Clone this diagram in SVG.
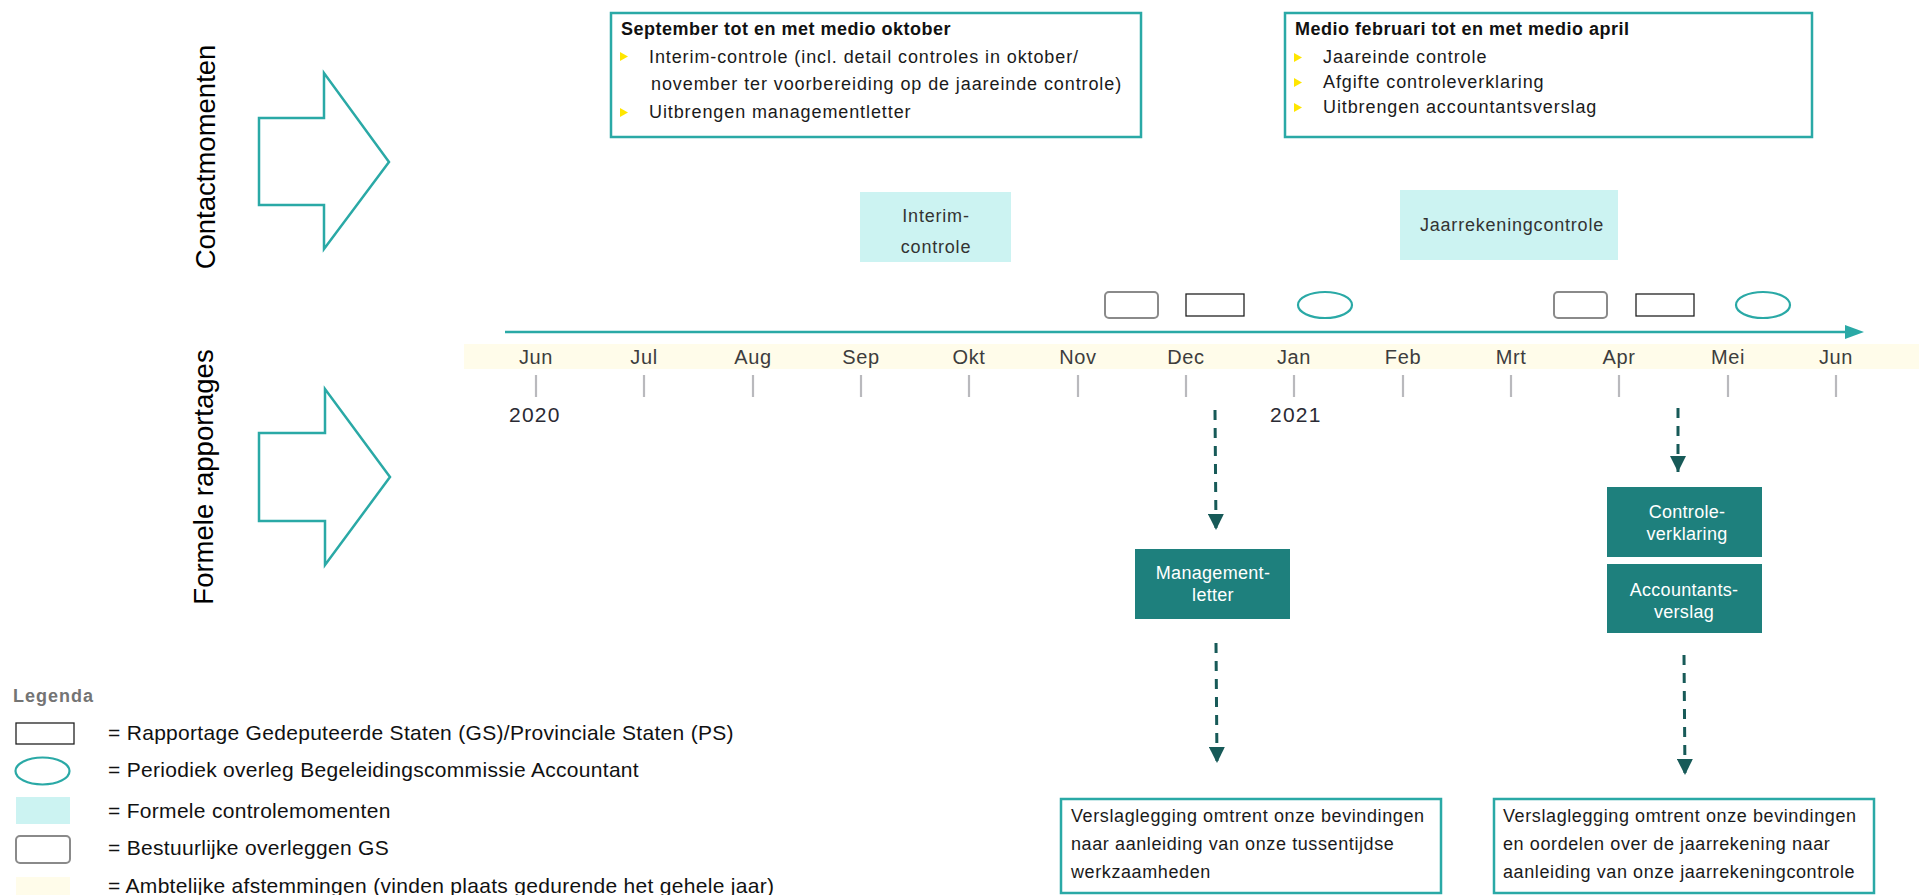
<svg xmlns="http://www.w3.org/2000/svg" width="1919" height="895" viewBox="0 0 1919 895">
<defs>
<style>
text{font-family:"Liberation Sans",Arial,sans-serif;}
.side{font-size:27.5px;fill:#000;}
.big{fill:none;stroke:#2aa9a6;stroke-width:2.5;}
.hdr{font-size:18px;font-weight:bold;fill:#111;letter-spacing:0.5px;}
.bul{font-size:18px;fill:#1a1a1a;letter-spacing:0.9px;}
.tri{fill:#ffe600;}
.info{fill:#fff;stroke:#2aa9a6;stroke-width:2.5;}
.cyan{fill:#ccf3f2;}
.ctext{font-size:18px;fill:#333;letter-spacing:0.8px;text-anchor:middle;}
.month{font-size:20px;fill:#3d3d3d;letter-spacing:0.6px;text-anchor:middle;}
.tick{stroke:#b9b9bd;stroke-width:2.2;}
.year{font-size:21px;fill:#2a2a33;letter-spacing:1.2px;}
.gbox{fill:#1e807d;}
.gtext{font-size:18px;fill:#fff;text-anchor:middle;letter-spacing:0.3px;}
.dash{fill:none;stroke:#175a58;stroke-width:3;stroke-dasharray:10 8;}
.btext{font-size:18px;fill:#1a1a1a;letter-spacing:0.6px;}
.legt{font-size:21px;fill:#111;letter-spacing:0.3px;}
.rr{fill:#fff;stroke:#8a8a8a;stroke-width:2;}
.rp{fill:#fff;stroke:#222;stroke-width:1.3;}
.ov{fill:#fff;stroke:#2aa9a6;stroke-width:2.2;}
</style>
<marker id="ah" viewBox="0 0 16 16" refX="16" refY="8" markerWidth="16" markerHeight="16" markerUnits="userSpaceOnUse" orient="auto">
<path d="M0,0 L16,8 L0,16 Z" fill="#175a58"/>
</marker>
</defs>

<g id="label-contactmomenten">
<text class="side" transform="translate(215,157) rotate(-90)" text-anchor="middle">Contactmomenten</text>
<polygon class="big" points="259,118 324,118 324,73 389,162 324,249 324,205 259,205"/>
</g>
<g id="label-formele-rapportages">
<text class="side" transform="translate(213,477) rotate(-90)" text-anchor="middle">Formele rapportages</text>
<polygon class="big" points="259,433 325,433 325,389 390,477 325,565 325,521 259,521"/>
</g>

<g id="box-september">
<rect class="info" x="611" y="13" width="530" height="124"/>
<text class="hdr" x="621" y="35">September tot en met medio oktober</text>
<polygon class="tri" points="620,52 628,56.5 620,61"/>
<text class="bul" x="649" y="63">Interim-controle (incl. detail controles in oktober/</text>
<text class="bul" x="651" y="90">november ter voorbereiding op de jaareinde controle)</text>
<polygon class="tri" points="620,108 628,112.5 620,117"/>
<text class="bul" x="649" y="118">Uitbrengen managementletter</text>
</g>

<g id="box-februari">
<rect class="info" x="1285" y="13" width="527" height="124"/>
<text class="hdr" x="1295" y="35">Medio februari tot en met medio april</text>
<polygon class="tri" points="1294,53 1302,57.5 1294,62"/>
<text class="bul" x="1323" y="63">Jaareinde controle</text>
<polygon class="tri" points="1294,78 1302,82.5 1294,87"/>
<text class="bul" x="1323" y="88">Afgifte controleverklaring</text>
<polygon class="tri" points="1294,103 1302,107.5 1294,112"/>
<text class="bul" x="1323" y="113">Uitbrengen accountantsverslag</text>
</g>

<g id="interim-controle">
<rect class="cyan" x="860" y="192" width="151" height="70"/>
<text class="ctext" x="936" y="222">Interim-</text>
<text class="ctext" x="936" y="253">controle</text>
</g>
<g id="jaarrekeningcontrole">
<rect class="cyan" x="1400" y="190" width="218" height="70"/>
<text class="ctext" x="1512" y="231">Jaarrekeningcontrole</text>
</g>

<g id="meetings">
<rect class="rr" x="1105" y="292" width="53" height="26" rx="4"/>
<rect class="rp" x="1186" y="294" width="58" height="22"/>
<ellipse class="ov" cx="1325" cy="305" rx="27" ry="13"/>
<rect class="rr" x="1554" y="292" width="53" height="26" rx="4"/>
<rect class="rp" x="1636" y="294" width="58" height="22"/>
<ellipse class="ov" cx="1763" cy="305" rx="27" ry="13"/>
</g>

<g id="timeline">
<rect x="464" y="344" width="1455" height="25" fill="#fffcea"/>
<line x1="505" y1="332" x2="1848" y2="332" stroke="#2aa9a6" stroke-width="2.5"/>
<polygon points="1845,325 1864,332 1845,339" fill="#2aa9a6"/>
<g id="months">
<text class="month" x="536" y="364">Jun</text>
<text class="month" x="644" y="364">Jul</text>
<text class="month" x="753" y="364">Aug</text>
<text class="month" x="861" y="364">Sep</text>
<text class="month" x="969" y="364">Okt</text>
<text class="month" x="1078" y="364">Nov</text>
<text class="month" x="1186" y="364">Dec</text>
<text class="month" x="1294" y="364">Jan</text>
<text class="month" x="1403" y="364">Feb</text>
<text class="month" x="1511" y="364">Mrt</text>
<text class="month" x="1619" y="364">Apr</text>
<text class="month" x="1728" y="364">Mei</text>
<text class="month" x="1836" y="364">Jun</text>
</g>
<g id="ticks">
<line class="tick" x1="536" y1="375" x2="536" y2="397"/>
<line class="tick" x1="644" y1="375" x2="644" y2="397"/>
<line class="tick" x1="753" y1="375" x2="753" y2="397"/>
<line class="tick" x1="861" y1="375" x2="861" y2="397"/>
<line class="tick" x1="969" y1="375" x2="969" y2="397"/>
<line class="tick" x1="1078" y1="375" x2="1078" y2="397"/>
<line class="tick" x1="1186" y1="375" x2="1186" y2="397"/>
<line class="tick" x1="1294" y1="375" x2="1294" y2="397"/>
<line class="tick" x1="1403" y1="375" x2="1403" y2="397"/>
<line class="tick" x1="1511" y1="375" x2="1511" y2="397"/>
<line class="tick" x1="1619" y1="375" x2="1619" y2="397"/>
<line class="tick" x1="1728" y1="375" x2="1728" y2="397"/>
<line class="tick" x1="1836" y1="375" x2="1836" y2="397"/>
</g>
<text class="year" x="509" y="422">2020</text>
<text class="year" x="1270" y="422">2021</text>
</g>

<g id="connectors">
<line class="dash" x1="1215" y1="410" x2="1216" y2="530" marker-end="url(#ah)"/>
<line class="dash" x1="1216" y1="643" x2="1217" y2="763" marker-end="url(#ah)"/>
<line class="dash" x1="1678" y1="408" x2="1678" y2="472" marker-end="url(#ah)"/>
<line class="dash" x1="1684" y1="655" x2="1685" y2="775" marker-end="url(#ah)"/>
</g>

<g id="managementletter">
<rect class="gbox" x="1135" y="549" width="155" height="70"/>
<text class="gtext" x="1213" y="579">Management-</text>
<text class="gtext" x="1213" y="601">letter</text>
</g>
<g id="controleverklaring">
<rect class="gbox" x="1607" y="487" width="155" height="70"/>
<text class="gtext" x="1687" y="518">Controle-</text>
<text class="gtext" x="1687" y="540">verklaring</text>
</g>
<g id="accountantsverslag">
<rect class="gbox" x="1607" y="564" width="155" height="69"/>
<text class="gtext" x="1684" y="596">Accountants-</text>
<text class="gtext" x="1684" y="618">verslag</text>
</g>

<g id="verslag-tussentijds">
<rect class="info" x="1061" y="799" width="380" height="94"/>
<text class="btext" x="1071" y="822">Verslaglegging omtrent onze bevindingen</text>
<text class="btext" x="1071" y="850">naar aanleiding van onze tussentijdse</text>
<text class="btext" x="1071" y="878">werkzaamheden</text>
</g>
<g id="verslag-jaarrekening">
<rect class="info" x="1494" y="799" width="380" height="94"/>
<text class="btext" x="1503" y="822">Verslaglegging omtrent onze bevindingen</text>
<text class="btext" x="1503" y="850">en oordelen over de jaarrekening naar</text>
<text class="btext" x="1503" y="878">aanleiding van onze jaarrekeningcontrole</text>
</g>

<g id="legend">
<text x="13" y="702" font-size="18" font-weight="bold" fill="#747474" letter-spacing="1">Legenda</text>
<rect class="rp" x="16" y="723" width="58" height="21"/>
<text class="legt" x="108" y="740">= Rapportage Gedeputeerde Staten (GS)/Provinciale Staten (PS)</text>
<ellipse class="ov" cx="42.5" cy="771" rx="27" ry="13.5"/>
<text class="legt" x="108" y="777">= Periodiek overleg Begeleidingscommissie Accountant</text>
<rect class="cyan" x="16" y="797" width="54" height="27"/>
<text class="legt" x="108" y="818">= Formele controlemomenten</text>
<rect class="rr" x="16" y="836" width="54" height="27" rx="4"/>
<text class="legt" x="108" y="855">= Bestuurlijke overleggen GS</text>
<rect x="16" y="877" width="54" height="27" fill="#fffcea"/>
<text class="legt" x="108" y="893">= Ambtelijke afstemmingen (vinden plaats gedurende het gehele jaar)</text>
</g>
</svg>
